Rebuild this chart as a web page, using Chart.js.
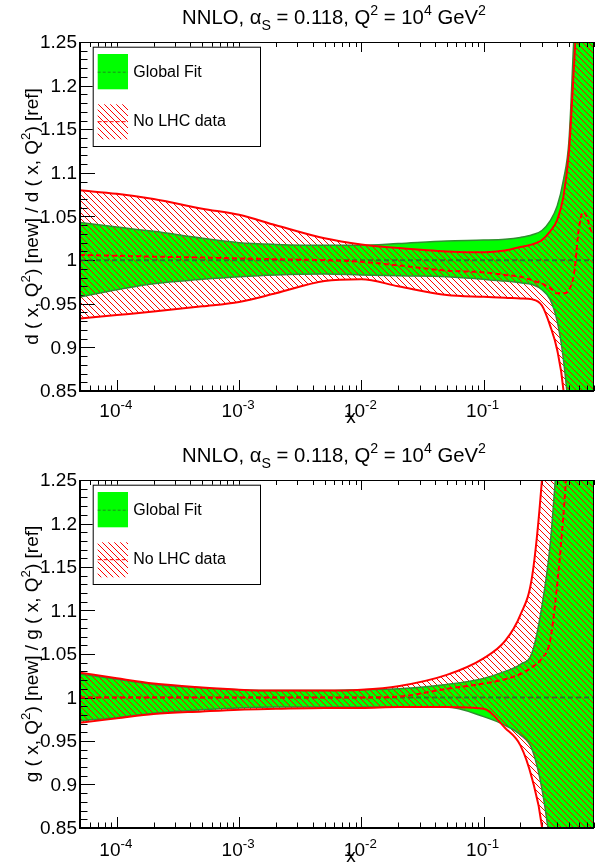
<!DOCTYPE html>
<html>
<head>
<meta charset="utf-8">
<script src="https://cdn.jsdelivr.net/npm/chart.js@4.4.1/dist/chart.umd.min.js"></script>
<style>
  body { margin: 0; background: #ffffff; }
  .panel { width: 598px; height: 434px; }
  canvas { display: block; }
</style>
</head>
<body>
<div class="panel"><canvas id="dChart" width="598" height="434"></canvas></div>
<div class="panel"><canvas id="gChart" width="598" height="434"></canvas></div>
<script>
// x grid shared by every band
var xValues = [0.00005, 0.0001, 0.0002, 0.0005, 0.001, 0.002, 0.005, 0.01, 0.02, 0.05,
               0.1, 0.15, 0.2, 0.25, 0.3, 0.35, 0.4, 0.45, 0.5, 0.55, 0.6, 0.65, 0.7, 0.75, 0.8];

// d quark ratio (top panel)
var dGlobalCentral = [1, 1, 1, 1, 1, 1, 1, 1, 1, 1, 1, 1, 1, 1, 1, 1, 1, 1, 1, 1, 1, 1, 1, 1, 1];
var dGlobalUpper = [1.043, 1.038, 1.033, 1.025, 1.020, 1.018, 1.017, 1.017, 1.019, 1.022,
                    1.023, 1.024, 1.026, 1.029, 1.034, 1.045, 1.062, 1.092, 1.138, 1.26, 1.36, 1.45, 1.52, 1.58, 1.62];
var dGlobalLower = [0.958, 0.966, 0.973, 0.978, 0.981, 0.983, 0.984, 0.983, 0.982, 0.981,
                    0.978, 0.976, 0.974, 0.972, 0.966, 0.955, 0.930, 0.886, 0.820, 0.720, 0.640, 0.570, 0.510, 0.460, 0.420];
var dNoLhcCentral = [1.006, 1.005, 1.004, 1.003, 1.002, 1.001, 1.000, 0.998, 0.994, 0.988,
                     0.986, 0.983, 0.981, 0.977, 0.973, 0.968, 0.962, 0.962, 0.966, 0.985, 1.035, 1.055, 1.050, 1.035, 1.030];
var dNoLhcUpper = [1.080, 1.076, 1.070, 1.059, 1.052, 1.040, 1.025, 1.018, 1.014, 1.010,
                   1.009, 1.011, 1.015, 1.018, 1.023, 1.033, 1.046, 1.073, 1.126, 1.225, 1.32, 1.40, 1.48, 1.54, 1.58];
var dNoLhcLower = [0.933, 0.937, 0.941, 0.947, 0.952, 0.962, 0.976, 0.978, 0.970, 0.960,
                   0.958, 0.957, 0.956, 0.955, 0.948, 0.925, 0.897, 0.851, 0.760, 0.660, 0.560, 0.480, 0.420, 0.380, 0.350];

// gluon ratio (bottom panel)
var gGlobalCentral = [1, 1, 1, 1, 1, 1, 1, 1, 1, 1, 1, 1, 1, 1, 1, 1, 1, 1, 1, 1, 1, 1, 1, 1, 1];
var gGlobalUpper = [1.027, 1.021, 1.015, 1.011, 1.009, 1.008, 1.008, 1.009, 1.010, 1.015,
                    1.022, 1.030, 1.038, 1.052, 1.105, 1.175, 1.28, 1.38, 1.45, 1.50, 1.55, 1.60, 1.64, 1.67, 1.70];
var gGlobalLower = [0.973, 0.977, 0.982, 0.986, 0.988, 0.989, 0.989, 0.989, 0.989, 0.989,
                    0.978, 0.968, 0.957, 0.940, 0.895, 0.830, 0.750, 0.680, 0.620, 0.570, 0.520, 0.480, 0.450, 0.420, 0.400];
var gNoLhcCentral = [1.000, 1.000, 1.000, 1.000, 1.000, 1.000, 1.000, 1.000, 1.001, 1.010,
                     1.016, 1.021, 1.027, 1.035, 1.045, 1.065, 1.130, 1.210, 1.300, 1.370, 1.420, 1.460, 1.500, 1.530, 1.560];
var gNoLhcUpper = [1.0285, 1.022, 1.016, 1.0115, 1.009, 1.008, 1.008, 1.009, 1.013, 1.026,
                   1.045, 1.065, 1.095, 1.140, 1.250, 1.400, 1.500, 1.580, 1.640, 1.690, 1.730, 1.760, 1.790, 1.810, 1.830];
var gNoLhcLower = [0.971, 0.976, 0.981, 0.984, 0.986, 0.987, 0.988, 0.988, 0.989, 0.989,
                   0.987, 0.965, 0.945, 0.906, 0.852, 0.750, 0.660, 0.590, 0.540, 0.500, 0.460, 0.430, 0.400, 0.380, 0.360];

// axis ticks and labels
var xMajorTicks = [0.0001, 0.001, 0.01, 0.1];
var xTickExponents = ['-4', '-3', '-2', '-1'];
var yMajorTicks = [0.85, 0.9, 0.95, 1, 1.05, 1.1, 1.15, 1.2, 1.25];
var yTickLabels = ['0.85', '0.9', '0.95', '1', '1.05', '1.1', '1.15', '1.2', '1.25'];

var FONT = '"Liberation Sans", Arial, sans-serif';
var GREEN = '#00ff00';
var GREEN_EDGE = '#2f8f2f';
var RED = '#ff0000';

function points(ys) {
    return xValues.map(function(x, i) { return { x: x, y: ys[i] }; });
}

// draws a string made of pieces, some raised (1) or lowered (-1)
function drawRich(ctx, parts, x, y, size, align) {
    var widths = [], total = 0;
    parts.forEach(function(p) {
        ctx.font = (p[1] ? size * 0.7 : size) + 'px ' + FONT;
        var w = ctx.measureText(p[0]).width;
        widths.push(w);
        total += w;
    });
    var cx = x;
    if (align === 'center') cx = x - total / 2;
    if (align === 'right') cx = x - total;
    ctx.textAlign = 'left';
    ctx.textBaseline = 'alphabetic';
    parts.forEach(function(p, i) {
        ctx.font = (p[1] ? size * 0.7 : size) + 'px ' + FONT;
        var dy = p[1] === 1 ? -size * 0.42 : (p[1] === -1 ? size * 0.33 : 0);
        ctx.fillText(p[0], cx, y + dy);
        cx += widths[i];
    });
}

// red "\\\" hatching like the ROOT fill style
function makeHatch(ctx) {
    var s = 6;
    var tile = document.createElement('canvas');
    tile.width = s;
    tile.height = s;
    var t = tile.getContext('2d');
    t.fillStyle = RED;
    for (var i = 0; i < s; i++) {
        t.fillRect(i, i, 1, 1);
    }
    return ctx.createPattern(tile, 'repeat');
}

var rootStyle = {
    id: 'rootStyle',
    beforeDatasetsDraw: function(chart) {
        var ctx = chart.ctx, a = chart.chartArea;
        var xs = chart.scales.x, ys = chart.scales.y;
        ctx.save();
        ctx.strokeStyle = '#000';
        ctx.lineWidth = 1;
        ctx.beginPath();
        for (var i = 85; i <= 125; i++) {
            var y = Math.round(ys.getPixelForValue(i / 100)) + 0.5;
            var len = i % 5 === 0 ? 15 : 7.5;
            ctx.moveTo(a.left, y);
            ctx.lineTo(a.left + len, y);
        }
        xMajorTicks.concat([0.00001]).forEach(function(dec) {
            for (var k = 1; k <= 9; k++) {
                var v = k * dec;
                if (v < xs.min * 0.999 || v > xs.max * 1.001) continue;
                var x = Math.round(xs.getPixelForValue(v)) + 0.5;
                var big = k === 1;
                ctx.moveTo(x, a.bottom);
                ctx.lineTo(x, a.bottom - (big ? 11 : 5.5));
                ctx.moveTo(x, a.top);
                ctx.lineTo(x, a.top + (big ? 10 : 5));
            }
        });
        ctx.stroke();
        ctx.restore();
    },
    afterDatasetsDraw: function(chart, args, opts) {
        var ctx = chart.ctx, a = chart.chartArea;
        var xs = chart.scales.x, ys = chart.scales.y;
        ctx.save();
        // frame
        ctx.strokeStyle = '#000';
        ctx.lineWidth = 1;
        ctx.strokeRect(a.left + 0.5, a.top + 0.5, a.right - a.left - 1, a.bottom - a.top - 1);
        ctx.lineWidth = 2;
        ctx.beginPath();
        ctx.moveTo(a.left, a.top);
        ctx.lineTo(a.left, a.bottom);
        ctx.lineTo(a.right, a.bottom);
        ctx.stroke();

        ctx.fillStyle = '#000';
        // y tick labels
        ctx.font = '19px ' + FONT;
        ctx.textAlign = 'right';
        ctx.textBaseline = 'middle';
        yMajorTicks.forEach(function(v, i) {
            ctx.fillText(yTickLabels[i], a.left - 3, ys.getPixelForValue(v) + 1);
        });
        // x tick labels
        xMajorTicks.forEach(function(v, i) {
            drawRich(ctx, [['10', 0], [xTickExponents[i], 1]], xs.getPixelForValue(v) - 1, a.bottom + opts.labelOffset, 19, 'center');
        });
        // x title
        drawRich(ctx, [['x', 0]], 351, a.bottom + opts.labelOffset + 6, 19, 'center');
        // y title
        ctx.save();
        ctx.translate(38, (a.top + a.bottom) / 2);
        ctx.rotate(-Math.PI / 2);
        drawRich(ctx, opts.yTitle, 0, 0, 19, 'center');
        ctx.restore();
        // title
        drawRich(ctx, [['NNLO, \u03b1', 0], ['S', -1], [' = 0.118, Q', 0], ['2', 1], [' = 10', 0], ['4', 1], [' GeV', 0], ['2', 1]],
            (a.left + a.right) / 2 - 3, a.top - 18.5, 20.3, 'center');

        // legend
        var lx = a.left + 12.7, ly = a.top + 4.7;
        ctx.fillStyle = '#fff';
        ctx.fillRect(lx, ly, 167.3, 99.3);
        ctx.strokeStyle = '#000';
        ctx.lineWidth = 1;
        ctx.strokeRect(lx + 0.5, ly + 0.5, 167.3, 99.3);
        var ds = chart.data.datasets;
        var fit = ds[4], noLhc = ds[2];
        ctx.fillStyle = fit.backgroundColor;
        ctx.fillRect(lx + 5, ly + 7.3, 30.3, 35.3);
        ctx.strokeStyle = ds[1].borderColor;
        ctx.setLineDash([3, 2]);
        ctx.beginPath();
        ctx.moveTo(lx + 5, ly + 25.5);
        ctx.lineTo(lx + 35.3, ly + 25.5);
        ctx.stroke();
        ctx.fillStyle = noLhc.backgroundColor;
        ctx.fillRect(lx + 5, ly + 57.6, 30.3, 35);
        ctx.strokeStyle = RED;
        ctx.setLineDash([4, 2]);
        ctx.beginPath();
        ctx.moveTo(lx + 5, ly + 75);
        ctx.lineTo(lx + 35.3, ly + 75);
        ctx.stroke();
        ctx.setLineDash([]);
        ctx.fillStyle = '#000';
        ctx.font = '16px ' + FONT;
        ctx.textAlign = 'left';
        ctx.textBaseline = 'middle';
        ctx.fillText(fit.label, lx + 40.6, ly + 25.5);
        ctx.fillText(noLhc.label, lx + 40.6, ly + 75);
        ctx.restore();
    }
};

function makePanel(canvasId, central, upper, lower, lhcCentral, lhcUpper, lhcLower, yTitle, pad) {
    var canvas = document.getElementById(canvasId);
    var hatch = makeHatch(canvas.getContext('2d'));
    var line = { pointRadius: 0, cubicInterpolationMode: 'monotone', clip: 0 };
    return new Chart(canvas, {
        type: 'line',
        data: {
            datasets: [
                Object.assign({ label: 'No LHC central', data: points(lhcCentral), borderColor: RED, borderWidth: 2, borderDash: [5, 3], fill: false }, line),
                Object.assign({ label: 'Global central', data: points(central), borderColor: 'rgba(40, 100, 40, 0.75)', borderWidth: 2, borderDash: [5, 3], fill: false }, line),
                Object.assign({ label: 'No LHC data', data: points(lhcUpper), borderColor: RED, borderWidth: 2, backgroundColor: hatch, fill: '+1' }, line),
                Object.assign({ label: 'No LHC lower', data: points(lhcLower), borderColor: RED, borderWidth: 2, fill: false }, line),
                Object.assign({ label: 'Global Fit', data: points(upper), borderColor: GREEN_EDGE, borderWidth: 1.5, backgroundColor: GREEN, fill: '+1' }, line),
                Object.assign({ label: 'Global lower', data: points(lower), borderColor: GREEN_EDGE, borderWidth: 1.5, fill: false }, line)
            ]
        },
        options: {
            responsive: false,
            animation: false,
            layout: { padding: pad },
            elements: { line: { capBezierPoints: false } },
            scales: {
                x: { type: 'logarithmic', min: 0.00005, max: 0.8, display: false },
                y: { type: 'linear', min: 0.85, max: 1.25, display: false }
            },
            plugins: {
                legend: { display: false },
                tooltip: { enabled: false },
                filler: { drawTime: 'beforeDatasetsDraw' },
                rootStyle: { yTitle: yTitle, labelOffset: pad.labelOffset }
            }
        },
        plugins: [rootStyle]
    });
}

makePanel('dChart', dGlobalCentral, dGlobalUpper, dGlobalLower, dNoLhcCentral, dNoLhcUpper, dNoLhcLower,
    [['d ( x, Q', 0], ['2', 1], [') [new] / d ( x, Q', 0], ['2', 1], [') [ref]', 0]],
    { left: 80, right: 4, top: 42, bottom: 43, labelOffset: 26 });
makePanel('gChart', gGlobalCentral, gGlobalUpper, gGlobalLower, gNoLhcCentral, gNoLhcUpper, gNoLhcLower,
    [['g ( x, Q', 0], ['2', 1], [') [new] / g ( x, Q', 0], ['2', 1], [') [ref]', 0]],
    { left: 80, right: 4, top: 46, bottom: 40, labelOffset: 28 });
</script>
</body>
</html>
